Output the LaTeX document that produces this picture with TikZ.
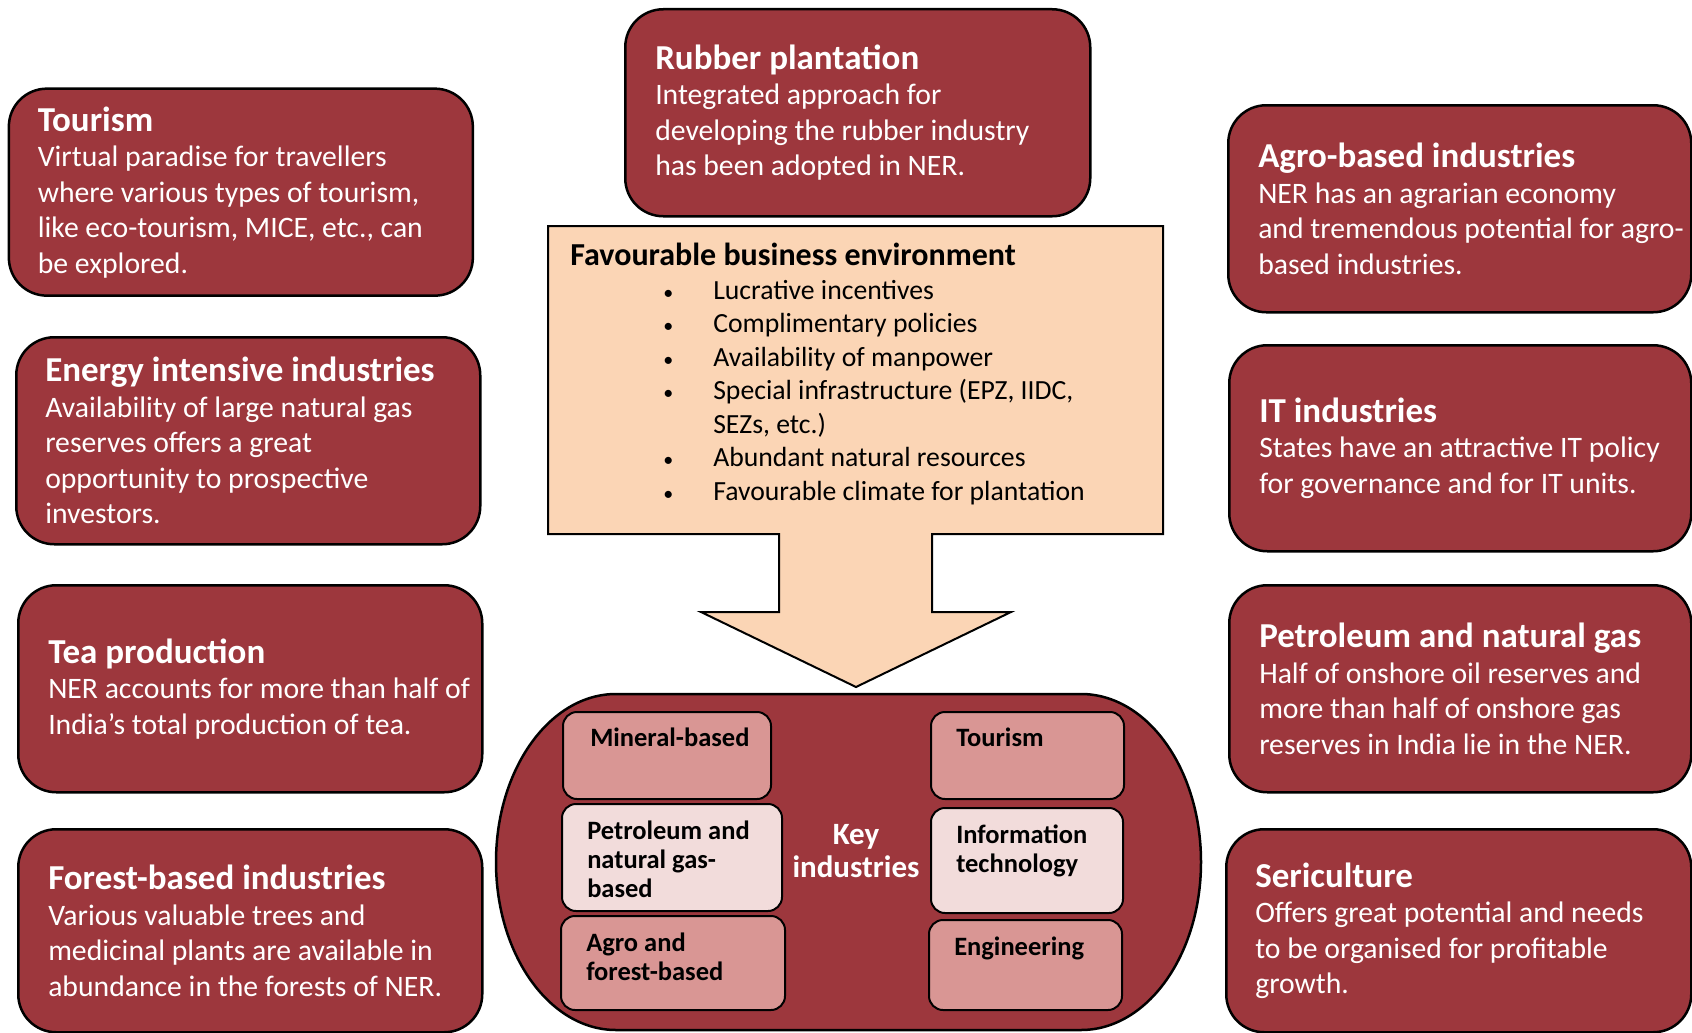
\documentclass[tikz,border=0pt]{standalone}
\usepackage{fontspec}
\setmainfont{Carlito}
\usetikzlibrary{positioning}

\definecolor{boxred}{HTML}{9D373D}
\definecolor{peach}{HTML}{FBD5B5}
\definecolor{rosedark}{HTML}{D99694}
\definecolor{roselight}{HTML}{F2DCDB}

\newcommand{\boxhead}[1]{{\fontsize{35}{35.5}\selectfont\bfseries #1}}
\newcommand{\favitem}[1]{\hspace*{93pt}\makebox[50pt][l]{\fontsize{20}{20}\selectfont\textbullet}#1}

\begin{document}
\begin{tikzpicture}[x = 1pt, y = -1pt, line width = 2.5pt,
    redbox/.style = {draw, fill = boxred, rounded corners = 38pt, inner sep = 0pt, anchor = north west},
    boxtext/.style = {align = left, text = white, inner sep = 0pt, font = \fontsize{29.7}{35.5}\selectfont},
    favtext/.style = {align = left, inner sep = 0pt, anchor = north west, font = \fontsize{27.7}{33.5}\selectfont},
    inbox/.style = {draw, rounded corners = 14pt, inner sep = 0pt, line width = 2pt, anchor = north west},
    intext/.style = {align = left, inner sep = 0pt, font = \bfseries\fontsize{26.5}{29}\selectfont},
    keytext/.style = {align = center, text = white, inner sep = 0pt, font = \bfseries\fontsize{31}{33}\selectfont}]
  \useasboundingbox (0, 0) rectangle (1692, 1033);

  \node [redbox, minimum width = 464pt, minimum height = 207pt] (tour) at (7.6, 87.4){};
  \node [redbox, minimum width = 464pt, minimum height = 207pt] (energy) at (15, 336){};
  \node [redbox, minimum width = 464pt, minimum height = 207pt] (tea) at (17, 584){};
  \node [redbox, minimum width = 464pt, minimum height = 203pt] (forest) at (17, 828){};
  \node [redbox, minimum width = 465pt, minimum height = 207pt] (rubber) at (624, 8){};
  \node [redbox, minimum width = 463pt, minimum height = 207pt] (agro) at (1227, 104){};
  \node [redbox, minimum width = 462pt, minimum height = 206pt] (itind) at (1228, 344){};
  \node [redbox, minimum width = 462pt, minimum height = 207pt] (petro) at (1228, 584){};
  \node [redbox, minimum width = 465pt, minimum height = 203pt] (seri) at (1225, 828){};

  \node [boxtext, right = 29pt of tour.west] (tourtxt){\boxhead{Tourism}\\Virtual paradise for travellers\\where various types of tourism,\\like eco-tourism, MICE, etc., can\\be explored.};
  \node [boxtext, right = 29pt of energy.west] (energytxt){\boxhead{Energy intensive industries}\\Availability of large natural gas\\reserves offers a great\\opportunity to prospective\\investors.};
  \node [boxtext, right = 30pt of tea.west] (teatxt){\boxhead{Tea production}\\NER accounts for more than half of\\India’s total production of tea.};
  \node [boxtext, right = 30pt of forest.west] (foresttxt){\boxhead{Forest-based industries}\\Various valuable trees and\\medicinal plants are available in\\abundance in the forests of NER.};
  \node [boxtext, right = 30pt of rubber.west] (rubbertxt){\boxhead{Rubber plantation}\\Integrated approach for\\developing the rubber industry\\has been adopted in NER.};
  \node [boxtext, right = 30pt of agro.west] (agrotxt){\boxhead{Agro-based industries}\\NER has an agrarian economy\\and tremendous potential for agro-\\based industries.};
  \node [boxtext, right = 30pt of itind.west] (ittxt){\boxhead{IT industries}\\States have an attractive IT policy\\for governance and for IT units.};
  \node [boxtext, right = 30pt of petro.west] (petrotxt){\boxhead{Petroleum and natural gas}\\Half of onshore oil reserves and\\more than half of onshore gas\\reserves in India lie in the NER.};
  \node [boxtext, right = 29pt of seri.west] (seritxt){\boxhead{Sericulture}\\Offers great potential and needs\\to be organised for profitable\\growth.};

  \draw [fill = peach, line width = 2pt] (548, 226) -- (1163, 226) -- (1163, 534) -- (932, 534) -- (932, 612) -- (1011, 612)
        -- (856, 687) -- (701, 612) -- (779, 612) -- (779, 534) -- (548, 534) -- cycle;
  \node [favtext] (favlist) at (569, 242){{\fontsize{32}{33.5}\selectfont\bfseries Favourable business environment}\\
        \favitem{Lucrative incentives}\\
        \favitem{Complimentary policies}\\
        \favitem{Availability of manpower}\\
        \favitem{Special infrastructure (EPZ, IIDC,}\\
        \hspace*{143pt}SEZs, etc.)\\
        \favitem{Abundant natural resources}\\
        \favitem{Favourable climate for plantation}};

  \draw [fill = boxred] (616, 694) -- (1081, 694) arc [start angle = 90, end angle = -90, x radius = 120pt, y radius = 168pt]
        -- (616, 1030) arc [start angle = 270, end angle = 90, x radius = 120pt, y radius = 168pt] -- cycle;
  \node [keytext] (key) at (856, 851){Key\\industries};

  \node [inbox, fill = rosedark, minimum width = 208pt, minimum height = 87pt] (mineral) at (562, 711){};
  \node [inbox, fill = roselight, minimum width = 220pt, minimum height = 107pt] (petrogas) at (561, 803){};
  \node [inbox, fill = rosedark, minimum width = 224pt, minimum height = 94pt] (agroforest) at (560, 915){};
  \node [inbox, fill = rosedark, minimum width = 193pt, minimum height = 87pt] (tourism) at (930, 711){};
  \node [inbox, fill = roselight, minimum width = 192pt, minimum height = 105pt] (infotech) at (930, 807){};
  \node [inbox, fill = rosedark, minimum width = 193pt, minimum height = 90pt] (engineering) at (928, 919){};

  \node [intext, below right = 16pt and 27pt of mineral.north west] (mineraltxt){Mineral-based};
  \node [intext, below right = 17pt and 25pt of petrogas.north west] (petrogastxt){Petroleum and\\natural gas-\\based};
  \node [intext, below right = 17pt and 25pt of agroforest.north west] (agroforesttxt){Agro and\\forest-based};
  \node [intext, below right = 16pt and 25pt of tourism.north west] (tourismtxt){Tourism};
  \node [intext, below right = 17pt and 25pt of infotech.north west] (infotechtxt){Information\\technology};
  \node [intext, below right = 17pt and 25pt of engineering.north west] (engineeringtxt){Engineering};
\end{tikzpicture}
\end{document}
